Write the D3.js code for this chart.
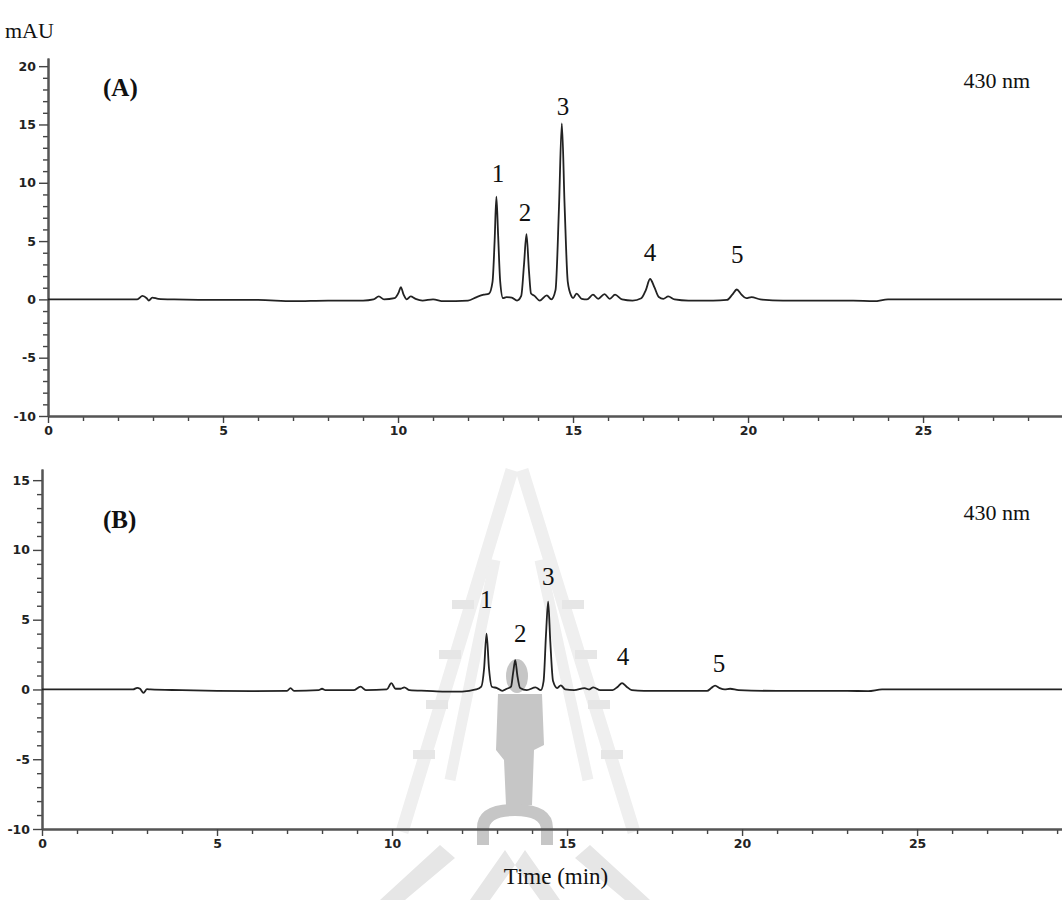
<!DOCTYPE html>
<html>
<head>
<meta charset="utf-8">
<script src="https://cdn.jsdelivr.net/npm/d3@7"></script>
<style>
  body { margin: 0; background: #fff; }
  svg { display: block; }
  .serif { font-family: "Liberation Serif", "Times New Roman", serif; fill: #111; }
</style>
</head>
<body>
<svg id="chart" width="1062" height="921"></svg>
<script>
/*
  HPLC chromatograms at 430 nm, two samples (A) and (B).
  Trace points are (time in min, absorbance in mAU).
*/

var traceA = [
  [0,0],[1,0],[2,0],[2.55,0],[2.7,0.3],[2.82,0.1],[2.88,-0.1],[2.98,0.15],[3.15,0.05],[3.6,0],
  [5,-0.05],[6,-0.05],[7,-0.15],[8,-0.1],[9,-0.1],[9.3,0],[9.45,0.25],[9.6,0],[9.9,0.1],
  [10.02,0.6],[10.08,1.05],[10.16,0.4],[10.25,0],[10.36,0.25],[10.5,0.05],[10.7,-0.1],[11,0],
  [11.3,-0.15],[12,-0.1],[12.25,0.2],[12.45,0.4],[12.6,0.5],[12.7,1.5],[12.76,5],[12.81,8.8],
  [12.86,5.5],[12.92,1.5],[13.0,0.1],[13.1,0.2],[13.25,0.15],[13.4,-0.1],[13.52,0.3],[13.6,3],
  [13.67,5.6],[13.74,2.5],[13.8,0.5],[13.9,0.3],[14.05,-0.1],[14.25,0.35],[14.38,0],[14.5,0.8],
  [14.6,8],[14.68,15.1],[14.76,8],[14.85,1.5],[14.95,0.3],[15.0,0.1],[15.1,0.5],[15.25,0.05],
  [15.4,0],[15.57,0.4],[15.72,0.05],[15.9,0.45],[16.05,0.05],[16.2,0.4],[16.4,0],[16.7,-0.1],
  [16.95,0.1],[17.08,0.8],[17.2,1.75],[17.33,1.0],[17.45,0.2],[17.58,0.05],[17.72,0.25],[17.9,0],
  [18.3,-0.1],[19,-0.1],[19.4,-0.05],[19.55,0.4],[19.68,0.85],[19.8,0.45],[19.95,0.1],[20.1,0.2],
  [20.35,0],[21,-0.1],[22,-0.1],[23,-0.1],[23.6,-0.15],[24,0],[25,0],[27,0],[29,0]
];

var traceB = [
  [0,0],[2,0],[2.6,0],[2.72,0.12],[2.8,0.05],[2.9,-0.25],[3.0,0.02],[3.1,0],[4,-0.05],[5,-0.1],
  [6,-0.12],[7,-0.1],[7.1,0.1],[7.2,-0.1],[7.9,-0.05],[8,0.05],[8.1,-0.05],[8.9,-0.05],[9.1,0.2],
  [9.25,-0.05],[9.85,0],[9.98,0.45],[10.1,0.05],[10.25,0.05],[10.35,0.15],[10.5,-0.05],[11,-0.1],
  [11.5,-0.15],[12,-0.15],[12.4,0],[12.55,0.2],[12.63,1.5],[12.7,4.0],[12.77,1.5],[12.85,0.2],
  [13.0,0.1],[13.15,-0.1],[13.28,0.05],[13.4,0.2],[13.46,1.2],[13.52,2.1],[13.58,1.0],[13.66,0.1],
  [13.85,-0.05],[14.1,0.15],[14.25,-0.05],[14.33,0.6],[14.4,4],[14.46,6.3],[14.52,3.5],[14.6,0.6],
  [14.72,0.1],[14.82,0.3],[14.95,0],[15.2,-0.05],[15.5,0.1],[15.62,0],[15.75,0.15],[15.95,-0.05],
  [16.3,-0.05],[16.45,0.2],[16.57,0.45],[16.7,0.2],[16.85,-0.05],[17.2,-0.1],[18,-0.1],[19,-0.1],
  [19.12,0.1],[19.23,0.28],[19.36,0.1],[19.5,0],[19.66,0.05],[19.9,-0.05],[21,-0.1],[23,-0.1],
  [23.6,-0.12],[24,0],[26,0],[29.2,0]
];

// peak numbers, placed in data units (time, mAU)
var peakLabelsA = [["1",12.86,10.1],["2",13.63,6.7],["3",14.71,15.85],["4",17.2,3.26],["5",19.69,3.08]];
var peakLabelsB = [["1",12.69,5.87],["2",13.66,3.37],["3",14.46,7.52],["4",16.6,1.72],["5",19.34,1.22]];

var xMajorTicks = [0,5,10,15,20,25];
var xMinorTicks = d3.range(0, 30, 1);
var yMajorTicksA = [-10,-5,0,5,10,15,20];
var yMajorTicksB = [-10,-5,0,5,10,15];
var yMinorTicks = d3.range(-10, 21, 1);

var svg = d3.select("#chart");

// faint university-logo watermark behind panel B (decoration only)
function drawWatermark(){
  var w = svg.append("g").attr("class", "watermark");
  var light = "#efefef", mid = "#e6e6e6", dark = "#c6c6c6";
  // outer frame
  w.append("path").attr("fill", "none").attr("stroke", light).attr("stroke-width", 13)
    .attr("d", "M512,470 L402,832 M522,470 L634,832");
  w.append("path").attr("fill", "none").attr("stroke", light).attr("stroke-width", 11)
    .attr("d", "M495,560 L450,780 M540,560 L588,780");
  // ladder rungs
  [600, 650, 700, 750].forEach(function(y, i){
    w.append("rect").attr("fill", mid).attr("x", 452 - i*13).attr("y", y).attr("width", 22).attr("height", 9);
    w.append("rect").attr("fill", mid).attr("x", 562 + i*13).attr("y", y).attr("width", 22).attr("height", 9);
  });
  // figure
  w.append("ellipse").attr("fill", dark).attr("cx", 517).attr("cy", 676).attr("rx", 11).attr("ry", 17);
  w.append("path").attr("fill", dark)
    .attr("d", "M498,694 L542,694 L544,745 L534,750 L532,805 L506,805 L504,760 L496,750 Z");
  // pedestal arch
  w.append("path").attr("fill", dark)
    .attr("d", "M477,845 L477,828 Q477,804 515,804 Q553,804 553,828 L553,845 L541,845 L541,830 Q541,816 515,816 Q489,816 489,830 L489,845 Z");
  // lotus base
  w.append("path").attr("fill", mid)
    .attr("d", "M380,900 L440,845 L455,858 L405,900 Z M650,900 L590,845 L575,858 L625,900 Z"
      + " M470,900 L505,850 L515,865 L490,900 Z M560,900 L525,850 L515,865 L540,900 Z");
}
drawWatermark();

function drawPanel(opt){
  var x = d3.scaleLinear().domain(opt.xDomain).range([opt.left, 1062]);
  var y = d3.scaleLinear().domain(opt.yDomain).range([opt.bottom, opt.top]);
  var g = svg.append("g");
  var fmt = function(d){ return String(d); }; // plain hyphen for negatives

  // minor ticks
  g.append("g").attr("transform", "translate(0," + opt.bottom + ")")
    .call(d3.axisBottom(x).tickValues(xMinorTicks.filter(function(d){ return d % 5 !== 0; }))
      .tickSize(5).tickSizeOuter(0).tickFormat(""));
  g.append("g").attr("transform", "translate(" + opt.left + ",0)")
    .call(d3.axisLeft(y).tickValues(yMinorTicks.filter(function(d){ return d % 5 !== 0 && d <= opt.yDomain[1]; }))
      .tickSize(5).tickSizeOuter(0).tickFormat(""));

  // major ticks with labels
  g.append("g").attr("transform", "translate(0," + opt.bottom + ")")
    .call(d3.axisBottom(x).tickValues(xMajorTicks).tickSize(7).tickSizeOuter(0).tickPadding(3).tickFormat(fmt));
  g.append("g").attr("transform", "translate(" + opt.left + ",0)")
    .call(d3.axisLeft(y).tickValues(opt.yMajor).tickSize(9).tickSizeOuter(0).tickPadding(3).tickFormat(fmt));

  g.selectAll(".domain").attr("stroke", "#555").attr("stroke-width", 2);
  g.selectAll(".tick line").attr("stroke", "#444").attr("stroke-width", 1.4);
  g.selectAll(".tick text")
    .attr("font-family", "'DejaVu Sans', Verdana, sans-serif")
    .attr("font-weight", "bold").attr("font-size", 12.5).attr("fill", "#222");

  // trace
  var line = d3.line()
    .x(function(d){ return x(d[0]); })
    .y(function(d){ return y(d[1]); })
    .curve(d3.curveMonotoneX);
  g.append("path").datum(opt.trace)
    .attr("fill", "none").attr("stroke", "#222").attr("stroke-width", 1.8)
    .attr("stroke-linejoin", "round").attr("d", line);

  // peak numbers
  g.selectAll("text.peak").data(opt.labels).enter().append("text")
    .attr("class", "peak serif")
    .attr("x", function(d){ return x(d[1]); })
    .attr("y", function(d){ return y(d[2]); })
    .attr("text-anchor", "middle").attr("font-size", 25)
    .text(function(d){ return d[0]; });

  // panel letter and wavelength
  g.append("text").attr("class", "serif").attr("x", 103).attr("y", opt.letterY)
    .attr("font-size", 25).attr("font-weight", "bold").text(opt.letter);
  g.append("text").attr("class", "serif").attr("x", 1030).attr("y", opt.letterY - 8)
    .attr("text-anchor", "end").attr("font-size", 22).text("430 nm");
}

drawPanel({
  trace: traceA, labels: peakLabelsA, yMajor: yMajorTicksA,
  xDomain: [0, 28.97], yDomain: [-10, 20.7],
  left: 48, top: 58, bottom: 416, letter: "(A)", letterY: 96
});

drawPanel({
  trace: traceB, labels: peakLabelsB, yMajor: yMajorTicksB,
  xDomain: [0, 29.14], yDomain: [-10, 15.8],
  left: 42, top: 469, bottom: 829, letter: "(B)", letterY: 528
});

svg.append("text").attr("class", "serif").attr("x", 5).attr("y", 38)
  .attr("font-size", 22).text("mAU");
svg.append("text").attr("class", "serif").attr("x", 556).attr("y", 884)
  .attr("text-anchor", "middle").attr("font-size", 23).text("Time (min)");
</script>
</body>
</html>
